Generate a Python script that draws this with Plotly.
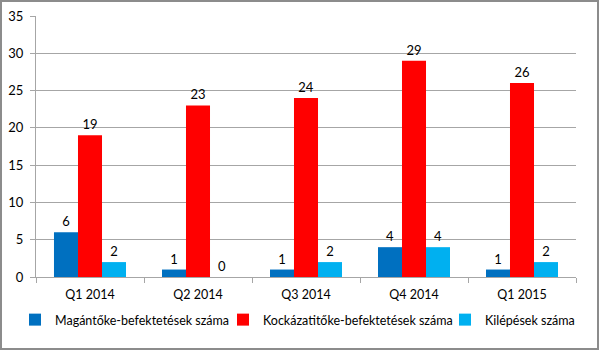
import plotly.graph_objects as go

categories = ["Q1 2014", "Q2 2014", "Q3 2014", "Q4 2014", "Q1 2015"]
series_names = ["Magántőke-befektetések száma", "Kockázatitőke-befektetések száma", "Kilépések száma"]
magan = [6, 1, 1, 4, 1]
kockazati = [19, 23, 24, 29, 26]
kilepes = [2, 0, 2, 4, 2]
colors = ["#0070C0", "#FF0000", "#00B0F0"]
y_ticks = [0, 5, 10, 15, 20, 25, 30, 35]

W, H = 600, 351
ml, mr, mt, mb = 36, 24, 16, 74

legend_ids = ["legend", "legend2", "legend3"]
legend_x_px = [15, 223, 445]

fig = go.Figure()
for name, vals, col, lg in zip(series_names, [magan, kockazati, kilepes], colors, legend_ids):
    fig.add_trace(go.Bar(
        x=categories, y=vals, name=name, legend=lg,
        marker=dict(color=col, line=dict(width=0)),
        text=[str(v) for v in vals], textposition="outside",
        textfont=dict(size=13, color="#000000"),
        cliponaxis=False,
    ))

pw = W - ml - mr
ph = H - mt - mb
def px2x(p):
    return (p - ml) / pw
def py2y(p):
    return 1 - (p - mt) / ph

fig.add_shape(type="rect", xref="paper", yref="paper",
              x0=px2x(1), x1=px2x(598), y0=py2y(1), y1=py2y(349),
              line=dict(color="#8C8C8C", width=2), fillcolor="rgba(0,0,0,0)", layer="below")

legend_common = dict(orientation="h", xanchor="left", xref="container",
                     y=1 - 320 / H, yanchor="middle", yref="container",
                     font=dict(size=12.5), itemwidth=30, bgcolor="rgba(0,0,0,0)")

fig.update_layout(
    width=W, height=H,
    margin=dict(l=ml, r=mr, t=mt, b=mb, autoexpand=False),
    paper_bgcolor="white", plot_bgcolor="white",
    font=dict(family="Lato, Open Sans, sans-serif", size=12, color="#000000"),
    barmode="group", bargap=0.333, bargroupgap=0,
    showlegend=True,
    legend=dict(x=legend_x_px[0] / W, **legend_common),
    legend2=dict(x=legend_x_px[1] / W, **legend_common),
    legend3=dict(x=legend_x_px[2] / W, **legend_common),
    xaxis=dict(showline=True, linecolor="#A6A6A6", linewidth=1, ticks="outside",
               tickson="boundaries", ticklen=5, tickcolor="#A6A6A6", showgrid=False,
               tickfont=dict(size=12.5), ticklabelstandoff=6),
    yaxis=dict(range=[0, 35], tickvals=y_ticks, showline=True, linecolor="#A6A6A6", linewidth=1,
               ticks="outside", ticklen=5, tickcolor="#A6A6A6", showgrid=True,
               gridcolor="#A6A6A6", gridwidth=1, zeroline=False, tickfont=dict(size=13),
               ticklabelstandoff=4),
)

fig.write_html("out.html")
